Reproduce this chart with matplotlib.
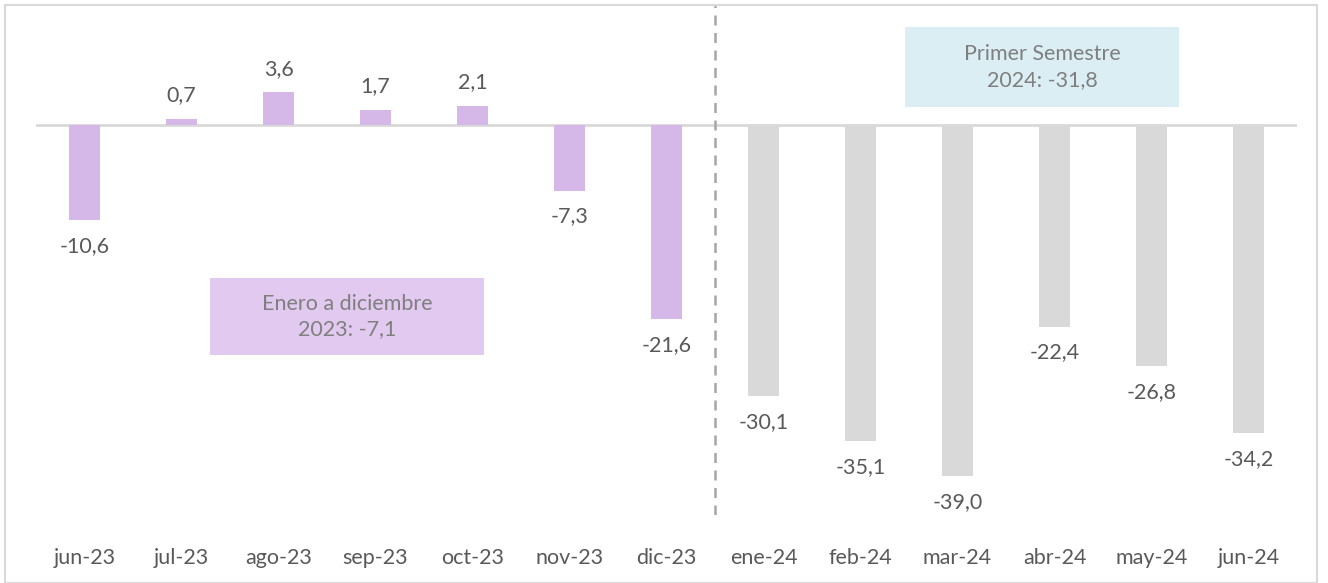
import matplotlib
matplotlib.use("Agg")
import matplotlib.pyplot as plt
from matplotlib.patches import Rectangle

categories = ["jun-23", "jul-23", "ago-23", "sep-23", "oct-23", "nov-23", "dic-23",
              "ene-24", "feb-24", "mar-24", "abr-24", "may-24", "jun-24"]
values = [-10.6, 0.7, 3.6, 1.7, 2.1, -7.3, -21.6,
          -30.1, -35.1, -39.0, -22.4, -26.8, -34.2]
year_2023_count = 7
box_2023_text = "Enero a diciembre\n2023: -7,1"
box_2024_text = "Primer Semestre\n2024: -31,8"

PURPLE = "#d5b8e8"
GRAY_BAR = "#d9d9d9"
TEXT = "#595959"
FS = 15.5
FW = "normal"

plt.rcParams['font.family'] = ['Lato', 'DejaVu Sans']

W, H = 1328, 583
fig = plt.figure(figsize=(W / 100, H / 100), dpi=100)

# outer border
fig.patches.append(Rectangle((5 / W, 0), (1317 - 5) / W, (H - 5) / H,
                             transform=fig.transFigure, fill=False,
                             edgecolor="#d9d9d9", linewidth=1.5))

ax = fig.add_axes([36 / W, (H - 515) / H, (1297 - 36) / W, (515 - 5) / H])
ax.set_xlim(-0.5, len(categories) - 0.5)
ax.set_ylim(-43.3, 13.3)
for s in ax.spines.values():
    s.set_visible(False)
ax.set_yticks([])

x = list(range(len(categories)))
colors = [PURPLE if i < year_2023_count else GRAY_BAR for i in x]
ax.bar(x, values, width=0.32, color=colors, zorder=2)
ax.axhline(0, color="#d9d9d9", linewidth=2, zorder=1)
ax.axvline(year_2023_count - 0.5, color="#a6a6a6", linewidth=1.8,
           linestyle=(0, (4, 3)), zorder=1)

for xi, v in zip(x, values):
    lab = f"{v:.1f}".replace(".", ",")
    off = 17 if v >= 0 else -18.5
    ax.annotate(lab, (xi, v), xytext=(0, off), textcoords="offset points",
                ha="center", va="center", fontsize=FS, color=TEXT, fontweight=FW)

ax.set_xticks(x)
ax.set_xticklabels(categories, fontsize=FS, color=TEXT, fontweight=FW)
ax.tick_params(axis="x", length=0, pad=24)

def fig_box(x0, y0, x1, y1, color, text):
    fig.patches.append(Rectangle((x0 / W, 1 - y1 / H), (x1 - x0) / W, (y1 - y0) / H,
                                 transform=fig.transFigure, facecolor=color,
                                 edgecolor="none", zorder=3))
    fig.text((x0 + x1) / 2 / W, 1 - (y0 + y1) / 2 / H, text, ha="center", va="center",
             fontsize=FS, color="#7f7f7f", linespacing=1.35, zorder=4, fontweight=FW)

fig_box(210, 278, 484, 355, "#e1c9ef", box_2023_text)
fig_box(905, 27, 1179, 107, "#daeef3", box_2024_text)

fig.savefig("out.png", dpi=100)
